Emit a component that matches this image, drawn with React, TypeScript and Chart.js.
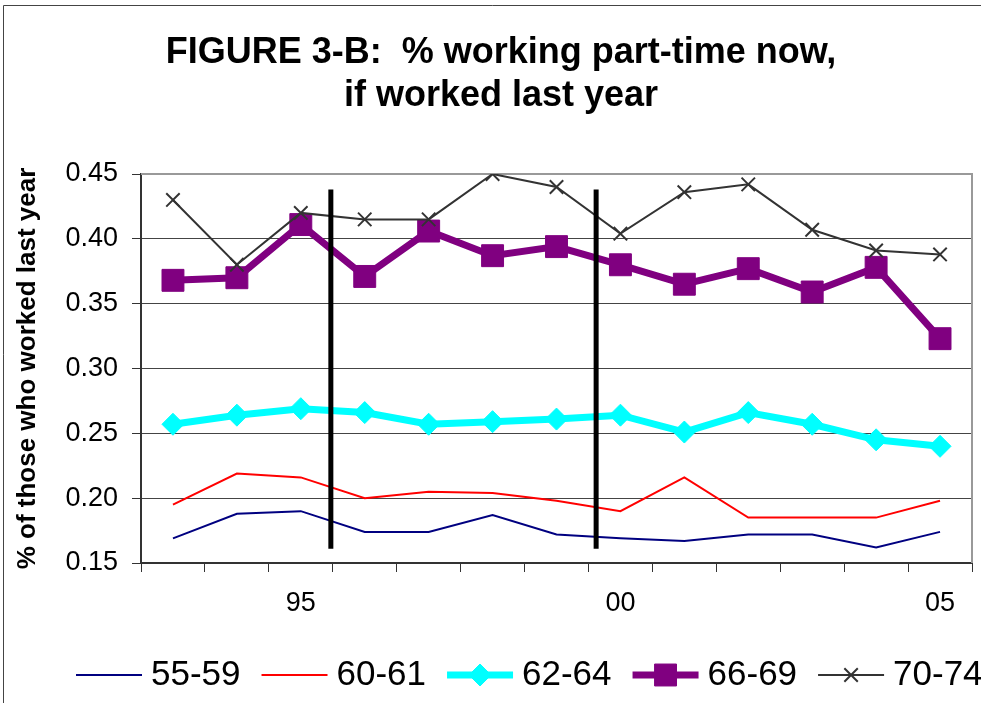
import React, { useEffect, useRef } from 'react';
import { Chart, registerables, PointElement } from 'chart.js';

Chart.register(...registerables);

// ---- data ----
const YEARS = ['93', '94', '95', '96', '97', '98', '99', '00', '01', '02', '03', '04', '05'];
const SHOWN_YEARS = ['95', '00', '05'];
const SERIES_NAMES = ['55-59', '60-61', '62-64', '66-69', '70-74'];
const S55_59 = [0.169, 0.188, 0.190, 0.174, 0.174, 0.187, 0.172, 0.169, 0.167, 0.172, 0.172, 0.162, 0.174];
const S60_61 = [0.195, 0.219, 0.216, 0.200, 0.205, 0.204, 0.198, 0.190, 0.216, 0.185, 0.185, 0.185, 0.198];
const S62_64 = [0.257, 0.264, 0.269, 0.266, 0.257, 0.259, 0.261, 0.264, 0.251, 0.266, 0.257, 0.245, 0.240];
const S66_69 = [0.368, 0.370, 0.411, 0.371, 0.406, 0.387, 0.394, 0.380, 0.365, 0.377, 0.359, 0.378, 0.323];
const S70_74 = [0.430, 0.380, 0.420, 0.415, 0.415, 0.450, 0.440, 0.404, 0.436, 0.442, 0.407, 0.391, 0.388];
const Y_MIN = 0.15;
const Y_MAX = 0.45;
const Y_STEP = 0.05;
// vertical marker lines (category-index position, value range)
const VLINE_AT = [2.47, 6.62];
const VLINE_FROM = 0.161;
const VLINE_TO = 0.438;

const TITLE_LINES = ['FIGURE 3-B:  % working part-time now,', 'if worked last year'];
const Y_TITLE = '% of those who worked last year';

const FONT = '"Liberation Sans", Arial, Helvetica, sans-serif';

const decorPlugin = {
  id: 'decor',
  beforeDraw(chart: any) {
    const { ctx, width, height } = chart;
    ctx.save();
    ctx.fillStyle = '#ffffff';
    ctx.fillRect(0, 0, width, height);
    ctx.strokeStyle = '#444444';
    ctx.lineWidth = 1;
    ctx.beginPath();
    ctx.moveTo(3.5, height);
    ctx.lineTo(3.5, 5.5);
    ctx.lineTo(width, 5.5);
    ctx.stroke();
    ctx.fillStyle = '#000000';
    ctx.font = 'bold 36px ' + FONT;
    ctx.textAlign = 'center';
    ctx.textBaseline = 'alphabetic';
    TITLE_LINES.forEach((t, i) => ctx.fillText(t, 501, 63 + i * 43));
    ctx.restore();
  },
  beforeDatasetsDraw(chart: any) {
    const { ctx, chartArea } = chart;
    ctx.save();
    ctx.strokeStyle = '#999999';
    ctx.lineWidth = 2;
    ctx.beginPath();
    ctx.moveTo(chartArea.left, chartArea.top);
    ctx.lineTo(chartArea.right, chartArea.top);
    ctx.lineTo(chartArea.right, chartArea.bottom);
    ctx.stroke();
    ctx.restore();
  },
  afterDatasetsDraw(chart: any) {
    const { ctx } = chart;
    const xs = chart.scales.x;
    const ys = chart.scales.y;
    ctx.save();
    ctx.strokeStyle = '#000000';
    ctx.lineWidth = 5;
    VLINE_AT.forEach((v) => {
      const px = xs.getPixelForValue(v);
      ctx.beginPath();
      ctx.moveTo(px, ys.getPixelForValue(VLINE_TO));
      ctx.lineTo(px, ys.getPixelForValue(VLINE_FROM));
      ctx.stroke();
    });
    ctx.restore();
  },
  afterDraw(chart: any) {
    const { ctx } = chart;
    ctx.save();
    ctx.font = '35px ' + FONT;
    ctx.textBaseline = 'alphabetic';
    ctx.textAlign = 'left';
    let x = 76;
    const y = 675;
    const lineLen = 66;
    chart.data.datasets.forEach((ds: any) => {
      ctx.strokeStyle = ds.borderColor;
      ctx.lineWidth = ds.borderWidth;
      ctx.beginPath();
      ctx.moveTo(x, y);
      ctx.lineTo(x + lineLen, y);
      ctx.stroke();
      if (ds.pointRadius > 0) {
        const pe: any = new PointElement({
          x: x + lineLen / 2,
          y,
          options: {
            pointStyle: ds.pointStyle,
            radius: ds.pointRadius,
            rotation: 0,
            borderWidth: ds.pointBorderWidth,
            backgroundColor: ds.pointBackgroundColor,
            borderColor: ds.pointBorderColor,
            hitRadius: 0,
          },
        } as any);
        pe.draw(ctx);
      }
      ctx.fillStyle = '#000000';
      const tx = x + lineLen + 9;
      ctx.fillText(ds.label, tx, 685);
      x = tx + ctx.measureText(ds.label).width + 21;
    });
    ctx.restore();
  },
};

export default function App() {
  const ref = useRef<HTMLCanvasElement>(null);
  useEffect(() => {
    const datasets = [
      { label: SERIES_NAMES[0], data: S55_59, borderColor: '#000080', borderWidth: 2, pointRadius: 0, order: 4 },
      { label: SERIES_NAMES[1], data: S60_61, borderColor: '#ff0000', borderWidth: 2, pointRadius: 0, order: 3 },
      {
        label: SERIES_NAMES[2], data: S62_64, borderColor: '#00ffff', borderWidth: 7,
        pointStyle: 'rectRot', pointRadius: 11, pointBorderWidth: 1,
        pointBackgroundColor: '#00ffff', pointBorderColor: '#00ffff', order: 2,
      },
      {
        label: SERIES_NAMES[3], data: S66_69, borderColor: '#800080', borderWidth: 7,
        pointStyle: 'rect', pointRadius: 15.5, pointBorderWidth: 1,
        pointBackgroundColor: '#800080', pointBorderColor: '#800080', order: 1,
      },
      {
        label: SERIES_NAMES[4], data: S70_74, borderColor: '#333333', borderWidth: 2,
        pointStyle: 'crossRot', pointRadius: 9.5, pointBorderWidth: 2,
        pointBackgroundColor: '#333333', pointBorderColor: '#333333', order: 0,
      },
    ];
    const chart = new Chart(ref.current as HTMLCanvasElement, {
      type: 'line',
      data: { labels: YEARS, datasets: datasets as any },
      plugins: [decorPlugin],
      options: {
        animation: false,
        responsive: false,
        devicePixelRatio: 1,
        layout: { autoPadding: false, padding: { top: 174, right: 9, bottom: 80, left: 0 } },
        elements: { line: { tension: 0 } },
        plugins: {
          legend: { display: false },
          title: { display: false },
          tooltip: { enabled: false },
        },
        scales: {
          x: {
            type: 'category',
            offset: true,
            afterFit: (s: any) => {
              s.height = 60;
              s.paddingLeft = 0;
              s.paddingRight = 0;
            },
            grid: {
              offset: true,
              drawOnChartArea: false,
              drawTicks: true,
              tickLength: 9,
              color: '#333333',
              lineWidth: 1,
            },
            border: { color: '#333333', width: 2 },
            ticks: {
              autoSkip: false,
              maxRotation: 0,
              padding: 15,
              color: '#000000',
              font: { family: FONT, size: 27 },
              callback: (_v: any, i: number) => (SHOWN_YEARS.includes(YEARS[i]) ? YEARS[i] : ''),
            },
          },
          y: {
            min: Y_MIN,
            max: Y_MAX,
            afterFit: (s: any) => { s.width = 141; },
            grid: {
              color: (c: any) => (Math.abs(c.tick.value - Y_MAX) < 1e-9 ? '#999999' : '#444444'),
              tickColor: '#333333',
              tickLength: 9,
              lineWidth: 1,
            },
            border: { color: '#333333', width: 2 },
            ticks: {
              stepSize: Y_STEP,
              padding: 14,
              color: '#000000',
              font: { family: FONT, size: 27 },
              callback: (v: any) => Number(v).toFixed(2),
            },
            title: {
              display: true,
              text: Y_TITLE,
              color: '#000000',
              font: { family: FONT, size: 26, weight: 'bold' },
              padding: { top: 12, bottom: 0 },
            },
          },
        },
      } as any,
    });
    return () => chart.destroy();
  }, []);
  return (
    <div style={{ position: 'absolute', left: 0, top: 0, width: 981, height: 703, background: '#fff' }}>
      <canvas ref={ref} width={981} height={703} style={{ display: 'block' }} />
    </div>
  );
}
